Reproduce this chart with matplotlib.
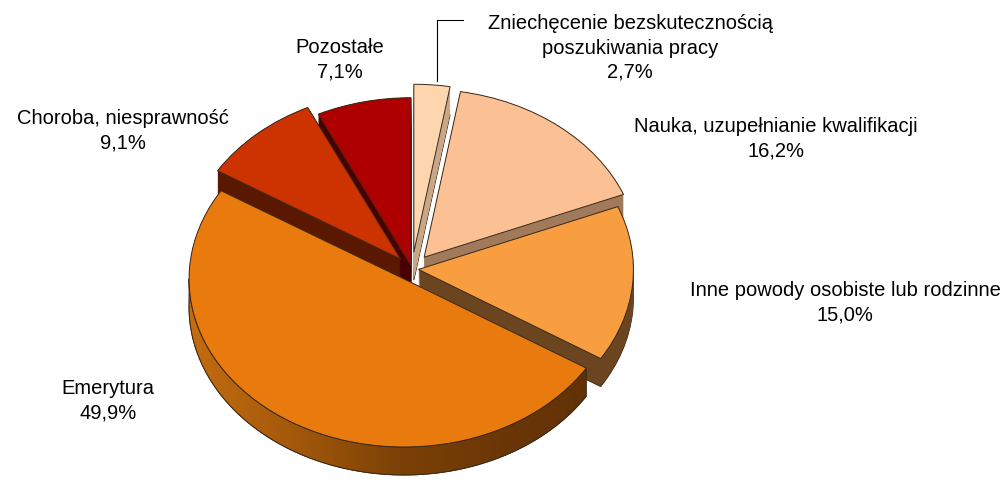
import matplotlib
matplotlib.use("Agg")
import matplotlib.pyplot as plt
from matplotlib.lines import Line2D
from matplotlib.patches import Polygon
from matplotlib.colors import LinearSegmentedColormap
import numpy as np

plt.rcParams['font.family'] = ['Liberation Sans', 'DejaVu Sans']

# ---- data ----
labels = ["Zniechęcenie bezskutecznością\nposzukiwania pracy",
          "Nauka, uzupełnianie kwalifikacji",
          "Inne powody osobiste lub rodzinne",
          "Emerytura",
          "Choroba, niesprawność",
          "Pozostałe"]
values = [2.7, 16.2, 15.0, 49.9, 9.1, 7.1]
pct_labels = ["2,7%", "16,2%", "15,0%", "49,9%", "9,1%", "7,1%"]

# ---- style ----
top_colors = ["#FDD6B0", "#FBC093", "#F89D40", "#E97A0E", "#CC3300", "#AE0000"]
side_colors = ["#C9A685", "#A07A5B", "#6B4520", "#8E4C08", "#5A1800", "#4A0000"]
explode = [0.10, 0.09, 0.03, 0.07, 0.08, 0.02]
edge = "#3A2A1A"

W, H = 1006, 481
cx, cy = 412, 270      # pie centre in pixels (from top-left)
rx, ry = 215, 168      # ellipse radii in pixels
depth = 28             # thickness in pixels

fig = plt.figure(figsize=(W / 100, H / 100), dpi=100)
ax = fig.add_axes([0, 0, 1, 1])

d_data = depth / ry
n_layers = 30
for i, d in enumerate(np.linspace(d_data, 0, n_layers)):
    if i == 0:
        wp = dict(edgecolor=edge, linewidth=0.7, zorder=1)
    else:
        wp = dict(linewidth=0, zorder=1)
    ax.pie(values, explode=explode, radius=1, center=(0, -d),
           colors=side_colors, startangle=90, counterclock=False,
           wedgeprops=wp)

tops, _ = ax.pie(values, explode=explode, radius=1, center=(0, 0),
                 colors=top_colors, startangle=90, counterclock=False,
                 wedgeprops=dict(edgecolor=edge, linewidth=0.7, zorder=3))

# gradient shading on the front wall of the largest slice
big = int(np.argmax(values))
w = tops[big]
t1, t2 = w.theta1 % 360, w.theta2 % 360
lo, hi = min(t1, t2), max(t1, t2)
if hi - lo < (w.theta2 - w.theta1) - 1e-6:
    lo, hi = w.theta1, w.theta2
a0, a1 = max(lo, 180), min(hi, 360)
th = np.radians(np.linspace(a0, a1, 200))
wx, wy = w.center
top_arc = np.column_stack([wx + np.cos(th), wy + np.sin(th)])
bot_arc = np.column_stack([wx + np.cos(th[::-1]), wy + np.sin(th[::-1]) - d_data])
side_poly = Polygon(np.vstack([top_arc, bot_arc]), closed=True,
                    facecolor='none', edgecolor=edge, linewidth=0.7, zorder=2.5)
ax.add_patch(side_poly)
cmap = LinearSegmentedColormap.from_list(
    "wall", ["#C46C10", "#A2580B", "#7A4006", "#6A3606", "#5E3006"])
grad = np.linspace(0, 1, 256).reshape(1, -1)
img = ax.imshow(grad, cmap=cmap, aspect='auto', zorder=2,
                extent=(wx - 1, wx + 1, wy - 1 - d_data, wy + 0.2),
                interpolation='bilinear')
img.set_clip_path(side_poly)

ax.set_aspect('auto')
ax.set_xlim(-cx / rx, (W - cx) / rx)
ax.set_ylim((cy - H) / ry, cy / ry)
ax.axis('off')

# ---- labels ----
fs = 14.5
label_pos = [(630, 48), (776, 139), (845, 303), (108, 401), (123, 131), (340, 60)]
for lab, pct, (lx, ly) in zip(labels, pct_labels, label_pos):
    fig.text(lx / W, 1 - ly / H, lab + "\n" + pct, ha='center', va='center',
             fontsize=fs, color='black', linespacing=1.35)

# leader line for the small slice
fig.add_artist(Line2D([437 / W, 437 / W, 463 / W],
                      [1 - 82 / H, 1 - 21 / H, 1 - 21 / H],
                      color='black', linewidth=0.8))

fig.savefig("out.png", dpi=100)
